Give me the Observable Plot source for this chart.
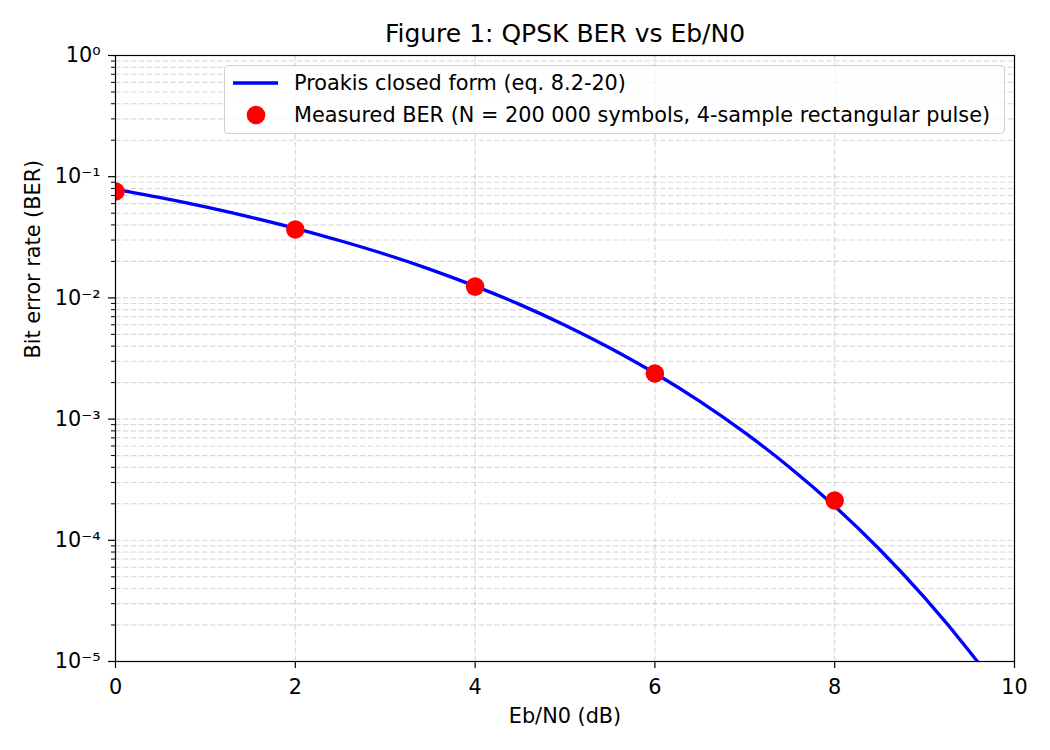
<!DOCTYPE html>
<html>
<head>
<meta charset="utf-8">
<script src="https://cdn.jsdelivr.net/npm/d3@7"></script>
<script src="https://cdn.jsdelivr.net/npm/@observablehq/plot@0.6"></script>
<style>
  html, body { margin: 0; padding: 0; background: white; }
  #wrap { position: relative; width: 1050px; height: 750px; font-family: "DejaVu Sans", sans-serif; }
  #legend {
    position: absolute; left: 224px; top: 65px; width: 779px; height: 67px;
    border: 1px solid #d0d0d0; border-radius: 4px; background: rgba(255,255,255,0.8);
    color: black; box-sizing: content-box;
  }
  #legend svg { position: absolute; left: 0; top: 0; }
</style>
</head>
<body>
<div id="wrap"></div>
<script>
// ---- data ----
const ebn0Curve = [0, 0.5, 1, 1.5, 2, 2.5, 3, 3.5, 4, 4.5, 5, 5.5, 6, 6.5, 7, 7.5, 8, 8.5, 9, 9.5, 10];
const berCurve  = [0.0786, 0.0671, 0.0563, 0.0464, 0.0375, 0.0296, 0.0229, 0.0172, 0.0125, 0.00880,
                   0.00595, 0.00386, 0.00239, 0.00140, 0.000773, 0.000399, 0.000191, 0.0000840,
                   0.0000336, 0.0000121, 0.00000387];
const ebn0Measured = [0, 2, 4, 6, 8];
const berMeasured  = [0.0755, 0.0367, 0.0124, 0.00238, 0.000213];

const xTicks = [0, 2, 4, 6, 8, 10];
const yMajorTicks = [1e-5, 1e-4, 1e-3, 1e-2, 1e-1, 1];
const yTickLabels = ["10⁻⁵", "10⁻⁴", "10⁻³", "10⁻²", "10⁻¹", "10⁰"];
const minorMultipliers = [2, 3, 4, 5, 6, 7, 8, 9];
const yMinorTicks = yMajorTicks.slice(0, -1).flatMap(d => minorMultipliers.map(m => d * m));

const titleText = "Figure 1: QPSK BER vs Eb/N0";
const xLabel = "Eb/N0 (dB)";
const yLabel = "Bit error rate (BER)";
const legendLine = "Proakis closed form (eq. 8.2-20)";
const legendDots = "Measured BER (N = 200 000 symbols, 4-sample rectangular pulse)";

const curve = ebn0Curve.map((x, i) => ({x, y: berCurve[i]}));
const measured = ebn0Measured.map((x, i) => ({x, y: berMeasured[i]}));

const FS = 20.8;
const gridStyle = {stroke: "#b0b0b0", strokeOpacity: 0.5, strokeWidth: 1.1, strokeDasharray: "5.5,2.4"};

const chart = Plot.plot({
  width: 1050,
  height: 750,
  marginLeft: 115,
  marginRight: 36,
  marginTop: 55,
  marginBottom: 89,
  style: {fontFamily: "DejaVu Sans, sans-serif", fontSize: FS + "px", color: "black", background: "white", overflow: "visible"},
  x: {domain: [0, 10]},
  y: {type: "log", domain: [1e-5, 1]},
  marks: [
    Plot.ruleY(yMinorTicks, gridStyle),
    Plot.ruleY(yMajorTicks, gridStyle),
    Plot.ruleX(xTicks, gridStyle),
    Plot.line(curve, {x: "x", y: "y", stroke: "#0000ff", strokeWidth: 3.3, curve: "monotone-x", clip: true}),
    Plot.dot(measured, {x: "x", y: "y", r: 9.3, fill: "#ff0000", stroke: "none", clip: true}),
    Plot.frame({stroke: "black", strokeWidth: 1.2}),
    Plot.axisX({ticks: xTicks, tickSize: 7, tickPadding: 11, tickFormat: d => String(d), label: null, strokeWidth: 1.2}),
    Plot.axisY({ticks: yMinorTicks, tickSize: 4, tickFormat: () => "", label: null, strokeWidth: 1}),
    Plot.axisY({ticks: yMajorTicks, tickSize: 7, tickPadding: 8, tickFormat: d => yTickLabels[yMajorTicks.indexOf(d)], label: null, strokeWidth: 1.2}),
    Plot.text([titleText], {text: d => d, frameAnchor: "top", dy: -22, lineAnchor: "middle", fontSize: 25}),
    Plot.text([xLabel], {text: d => d, frameAnchor: "bottom", dy: 55, lineAnchor: "middle", fontSize: FS}),
    Plot.text([yLabel], {text: d => d, frameAnchor: "left", dx: -82, rotate: -90, lineAnchor: "middle", fontSize: FS})
  ]
});

const wrap = document.getElementById("wrap");
wrap.appendChild(chart);

// legend overlay
const legend = document.createElement("div");
legend.id = "legend";
legend.innerHTML = `
  <svg width="779" height="67">
    <line x1="8" x2="53" y1="17" y2="17" stroke="#0000ff" stroke-width="3.3"></line>
    <circle cx="31" cy="49" r="9.3" fill="#ff0000"></circle>
    <text x="69" y="17" dy="0.35em" font-size="${FS}" font-family="DejaVu Sans, sans-serif">${legendLine}</text>
    <text x="69" y="49" dy="0.35em" font-size="${FS}" font-family="DejaVu Sans, sans-serif">${legendDots}</text>
  </svg>`;
wrap.appendChild(legend);
</script>
</body>
</html>
